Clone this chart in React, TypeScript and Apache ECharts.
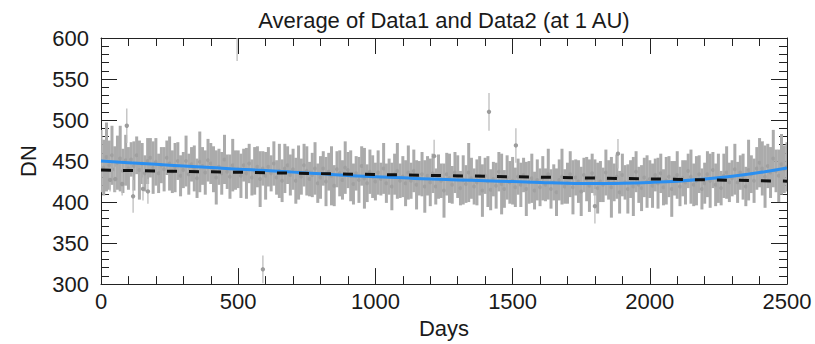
import React, { useEffect, useRef } from "react";
import * as echarts from "echarts";

const TITLE = "Average of Data1 and Data2 (at 1 AU)";
const X_NAME = "Days";
const Y_NAME = "DN";
const X_MIN = 0;
const X_MAX = 2500;
const X_STEP = 500;
const Y_MIN = 300;
const Y_MAX = 600;
const Y_STEP = 50;

// daily measurements, binned every 10 days (day = BIN_START + i * BIN_STEP)
const BIN_START = 0;
const BIN_STEP = 10;
const pointValues = [
  450, 442, 455, 445, 457, 440, 448, 453, 438, 451,
  441, 452, 444, 457, 439, 447, 435, 450, 454, 442,
  449, 435, 445, 440, 454, 447, 437, 442, 450, 432,
  439, 450, 434, 446, 441, 429, 449, 444, 436, 451,
  447, 440, 430, 443, 435, 452, 437, 431, 445, 439,
  440, 432, 445, 435, 447, 430, 438, 443, 428, 441,
  432, 443, 435, 447, 430, 438, 426, 441, 445, 433,
  440, 426, 436, 431, 445, 438, 428, 433, 441, 423,
  430, 441, 425, 437, 432, 420, 440, 435, 427, 442,
  439, 432, 422, 435, 427, 444, 429, 423, 437, 431,
  425, 436, 428, 441, 423, 431, 419, 434, 438, 426,
  431, 423, 436, 426, 438, 421, 429, 434, 419, 432,
  424, 435, 419, 431, 426, 414, 434, 429, 421, 436,
  431, 417, 427, 422, 436, 429, 419, 424, 432, 414,
  432, 425, 415, 428, 420, 437, 422, 416, 430, 424,
  426, 418, 431, 421, 433, 416, 424, 429, 414, 427,
  418, 429, 421, 434, 416, 424, 412, 427, 431, 419,
  423, 434, 418, 430, 425, 413, 433, 428, 420, 435,
  430, 417, 425, 421, 436, 427, 418, 424, 431, 412,
  433, 424, 416, 428, 419, 437, 421, 417, 430, 425,
  428, 420, 433, 423, 435, 418, 426, 431, 416, 429,
  433, 419, 429, 424, 438, 431, 421, 426, 434, 416,
  423, 434, 426, 439, 421, 429, 417, 432, 436, 424,
  429, 440, 424, 436, 431, 419, 439, 434, 426, 441,
  448, 441, 431, 444, 436, 453, 438, 432, 446, 440,
  443,
];
const pointErrors = [
  38, 34, 42, 30, 36, 28, 33, 40, 27, 31,
  26, 21, 30, 23, 36, 25, 22, 28, 24, 32,
  29, 24, 22, 27, 21, 33, 26, 30, 23, 25,
  22, 31, 25, 21, 28, 24, 37, 23, 27, 26,
  25, 28, 33, 22, 26, 30, 21, 27, 32, 24,
  23, 27, 20, 31, 24, 22, 29, 25, 34, 21,
  29, 24, 22, 27, 21, 33, 26, 30, 23, 25,
  25, 28, 33, 22, 26, 30, 21, 27, 32, 24,
  26, 21, 30, 23, 36, 25, 22, 28, 24, 32,
  22, 31, 25, 21, 28, 24, 37, 23, 27, 26,
  23, 27, 20, 31, 24, 22, 29, 25, 34, 21,
  25, 28, 33, 22, 26, 30, 21, 27, 32, 24,
  29, 24, 22, 27, 21, 33, 26, 30, 23, 25,
  26, 21, 30, 23, 36, 25, 22, 28, 24, 32,
  22, 31, 25, 21, 28, 24, 37, 23, 27, 26,
  29, 24, 22, 27, 21, 33, 26, 30, 23, 25,
  23, 27, 20, 31, 24, 22, 29, 25, 34, 21,
  25, 28, 33, 22, 26, 30, 21, 27, 32, 24,
  22, 31, 25, 21, 28, 24, 37, 23, 27, 26,
  26, 21, 30, 23, 36, 25, 22, 28, 24, 32,
  23, 27, 20, 31, 24, 22, 29, 25, 34, 21,
  29, 24, 22, 27, 21, 33, 26, 30, 23, 25,
  25, 28, 33, 22, 26, 30, 21, 27, 32, 24,
  22, 31, 25, 21, 28, 24, 37, 23, 27, 26,
  30, 33, 38, 27, 31, 35, 26, 32, 37, 29,
  30,
];

// isolated measurements standing out of the band
const outlierDays = [33, 52, 77, 94, 117, 153, 171, 496, 590, 1214, 1414, 1512, 1800, 1884];
const outlierValues = [427, 428, 422, 493, 407, 416, 413, 620, 318, 456, 510, 469, 395, 459];
const outlierErrors = [14, 15, 14, 21, 20, 14, 15, 48, 17, 20, 23, 21, 21, 18];

// polynomial fit (blue)
const fitDays = [0, 100, 200, 300, 400, 500, 600, 700, 800, 900, 1000, 1100, 1200, 1300, 1400, 1500, 1600, 1700, 1800, 1900, 2000, 2100, 2200, 2300, 2400, 2500];
const fitValues = [450, 448, 446, 444, 442, 440, 438.5, 436.5, 434.5, 432.5, 431, 429.5, 428, 427, 426, 425, 424, 423, 422.5, 423, 424, 425.5, 428, 431.5, 436, 441.5];

// linear fit (black dashed)
const linearDays = [0, 2500];
const linearValues = [439, 425.5];

const FONT = "'Liberation Sans', Arial, Helvetica, sans-serif";
const FONT_SIZE = 22;
const TEXT = "#1a1a1a";
const AXIS = "#222";

function makeErrorBar(lineColor: string, lineWidth: number, dotColor: string, r: number) {
  return function (params: any, api: any) {
    const x = api.value(0);
    const v = api.value(1);
    const e = api.value(2);
    const top = api.coord([x, v + e]);
    const bot = api.coord([x, v - e]);
    const c = api.coord([x, v]);
    return {
      type: "group",
      children: [
        {
          type: "line",
          shape: { x1: top[0], y1: top[1], x2: bot[0], y2: bot[1] },
          style: { stroke: lineColor, lineWidth: lineWidth },
        },
        {
          type: "circle",
          shape: { cx: c[0], cy: c[1], r: r },
          style: { fill: dotColor },
        },
      ],
    };
  };
}

function makeAxis(pos: string, isX: boolean, showLabel: boolean, name?: string) {
  return {
    type: "value",
    position: pos,
    min: isX ? X_MIN : Y_MIN,
    max: isX ? X_MAX : Y_MAX,
    interval: isX ? X_STEP : Y_STEP,
    name: name,
    nameLocation: "middle",
    nameGap: isX ? 31 : 62,
    nameTextStyle: { fontSize: FONT_SIZE, color: TEXT, fontFamily: FONT },
    axisLine: { show: true, onZero: false, lineStyle: { color: AXIS, width: 1 } },
    axisTick: { show: true, inside: true, length: 16, lineStyle: { color: AXIS, width: 1 } },
    minorTick: { show: true, splitNumber: 5, length: 8, lineStyle: { color: AXIS, width: 1 } },
    axisLabel: {
      show: showLabel,
      fontSize: FONT_SIZE,
      color: TEXT,
      fontFamily: FONT,
      margin: isX ? 6 : 12,
      showMinLabel: true,
      showMaxLabel: true,
      formatter: (v: number) => String(v),
    },
    splitLine: { show: false },
    minorSplitLine: { show: false },
  };
}

export default function App() {
  const ref = useRef<HTMLDivElement>(null);

  useEffect(() => {
    if (!ref.current) return;
    const chart = echarts.init(ref.current, undefined, { renderer: "svg" });

    const bins = pointValues.map((v, i) => [BIN_START + i * BIN_STEP, v, pointErrors[i]]);
    const outliers = outlierDays.map((d, i) => [d, outlierValues[i], outlierErrors[i]]);

    chart.setOption({
      animation: false,
      backgroundColor: "#ffffff",
      grid: { left: 101, right: 28, top: 38, bottom: 51, containLabel: false },
      graphic: [
        {
          type: "text",
          x: 444,
          y: 20,
          style: {
            text: TITLE,
            fill: TEXT,
            fontSize: FONT_SIZE,
            fontFamily: FONT,
            align: "center",
            verticalAlign: "middle",
            textAlign: "center",
            textVerticalAlign: "middle",
          },
        },
      ],
      xAxis: [makeAxis("bottom", true, true, X_NAME), makeAxis("top", true, false)],
      yAxis: [makeAxis("left", false, true, Y_NAME), makeAxis("right", false, false)],
      series: [
        {
          type: "custom",
          xAxisIndex: 0,
          yAxisIndex: 0,
          clip: true,
          renderItem: makeErrorBar("#ababab", 3, "#a0a0a0", 2),
          encode: { x: 0, y: 1 },
          data: bins,
          z: 1,
        },
        {
          type: "custom",
          xAxisIndex: 0,
          yAxisIndex: 0,
          clip: true,
          renderItem: makeErrorBar("#bdbdbd", 1.3, "#9c9c9c", 2.2),
          encode: { x: 0, y: 1 },
          data: outliers,
          z: 2,
        },
        {
          type: "line",
          xAxisIndex: 0,
          yAxisIndex: 0,
          data: fitDays.map((d, i) => [d, fitValues[i]]),
          smooth: true,
          symbol: "none",
          lineStyle: { color: "#2b8ff0", width: 3 },
          z: 3,
        },
        {
          type: "line",
          xAxisIndex: 0,
          yAxisIndex: 0,
          data: linearDays.map((d, i) => [d, linearValues[i]]),
          symbol: "none",
          lineStyle: { color: "#111", width: 3, type: [10, 12] },
          z: 4,
        },
      ],
    });

    return () => chart.dispose();
  }, []);

  return (
    <div
      ref={ref}
      style={{ position: "fixed", left: 0, top: 0, width: 815, height: 344, background: "#fff" }}
    />
  );
}
